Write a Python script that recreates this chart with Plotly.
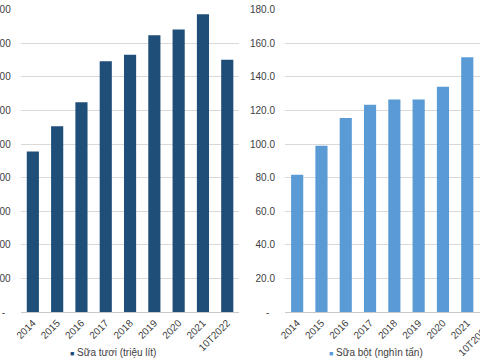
import plotly.graph_objects as go

categories = ["2014", "2015", "2016", "2017", "2018", "2019", "2020", "2021", "10T2022"]
fresh_milk = [956, 1105, 1248, 1492, 1530, 1646, 1680, 1771, 1500]
powder_milk = [81.7, 99.0, 115.5, 123.4, 126.4, 126.4, 134.1, 151.5, None]

left_ticks = [0, 200, 400, 600, 800, 1000, 1200, 1400, 1600, 1800]
left_ticktext = ["-\u00a0\u00a0"] + [f"{v:,}" for v in left_ticks[1:]]
right_ticks = [0, 20, 40, 60, 80, 100, 120, 140, 160, 180]
right_ticktext = ["-\u00a0\u00a0"] + [f"{v:.1f}" for v in right_ticks[1:]]

W, H = 480, 360
FONT = "Liberation Sans, Arial, sans-serif"
TXT = "#404040"
GRID = "#D9D9D9"

# plot areas in pixels
ytop, ybot = 9.3, 312.3
lx0, lx1 = 20.7, 239.4
rx0 = 285.0
cat_px = (lx1 - lx0) / len(categories)
r_range = [-0.5, -0.5 + (W - rx0) / cat_px]

fig = go.Figure()
fig.add_trace(go.Bar(x=categories, y=fresh_milk, marker_color="#1F4E79",
                     showlegend=False, xaxis="x", yaxis="y"))
fig.add_trace(go.Bar(x=categories, y=powder_milk, marker_color="#5B9BD5",
                     showlegend=False, xaxis="x2", yaxis="y2"))

ydom = [1 - ybot / H, 1 - ytop / H]
common_x = dict(type="category", showgrid=False, showline=True, linecolor="#C8C8C8",
                linewidth=1, ticks="", tickangle=-45, automargin=False,
                tickfont=dict(family=FONT, size=10, color=TXT))
common_y = dict(showgrid=True, gridcolor=GRID, gridwidth=1, zeroline=False, ticks="",
                automargin=False, tickmode="array", ticklabelstandoff=9,
                tickfont=dict(family=FONT, size=10, color=TXT))

fig.update_layout(
    width=W, height=H,
    margin=dict(l=0, r=0, t=0, b=0),
    paper_bgcolor="white", plot_bgcolor="white",
    template="none",
    bargap=0.5,
    xaxis=dict(domain=[lx0 / W, lx1 / W], range=[-0.5, len(categories) - 0.5],
               categoryarray=categories, categoryorder="array", **common_x),
    yaxis=dict(domain=ydom, range=[0, 1800.5], tickvals=left_ticks, ticktext=left_ticktext,
               anchor="x", **common_y),
    xaxis2=dict(domain=[rx0 / W, 1.0], range=r_range, anchor="y2",
                categoryarray=categories, categoryorder="array", **common_x),
    yaxis2=dict(domain=ydom, range=[0, 180.05], tickvals=right_ticks, ticktext=right_ticktext,
                anchor="x2", **common_y),
)

# tick label of the last (off-screen) category on the right chart
last_idx = len(categories) - 1
x_last_px = rx0 + (last_idx - r_range[0]) * cat_px
fig.add_annotation(xref="paper", yref="paper", x=(x_last_px + 3) / W, y=1 - (ybot + 7) / H,
                   text=categories[last_idx], textangle=-45, showarrow=False,
                   xanchor="right", yanchor="top",
                   font=dict(family=FONT, size=10, color=TXT))

# legends
fig.add_annotation(xref="paper", yref="paper", x=113 / W, y=1 - 352 / H,
                   text="<span style='color:#1F4E79;font-size:7px'>■</span> Sữa tươi (triệu lít)",
                   showarrow=False, xanchor="center", yanchor="middle",
                   font=dict(family=FONT, size=10, color=TXT))
fig.add_annotation(xref="paper", yref="paper", x=376 / W, y=1 - 352 / H,
                   text="<span style='color:#5B9BD5;font-size:7px'>■</span> Sữa bột (nghìn tấn)",
                   showarrow=False, xanchor="center", yanchor="middle",
                   font=dict(family=FONT, size=10, color=TXT))

fig.write_html("out.html",
               config={"displayModeBar": False},
               post_script="document.body.style.margin='0px';document.body.style.overflow='hidden';")
